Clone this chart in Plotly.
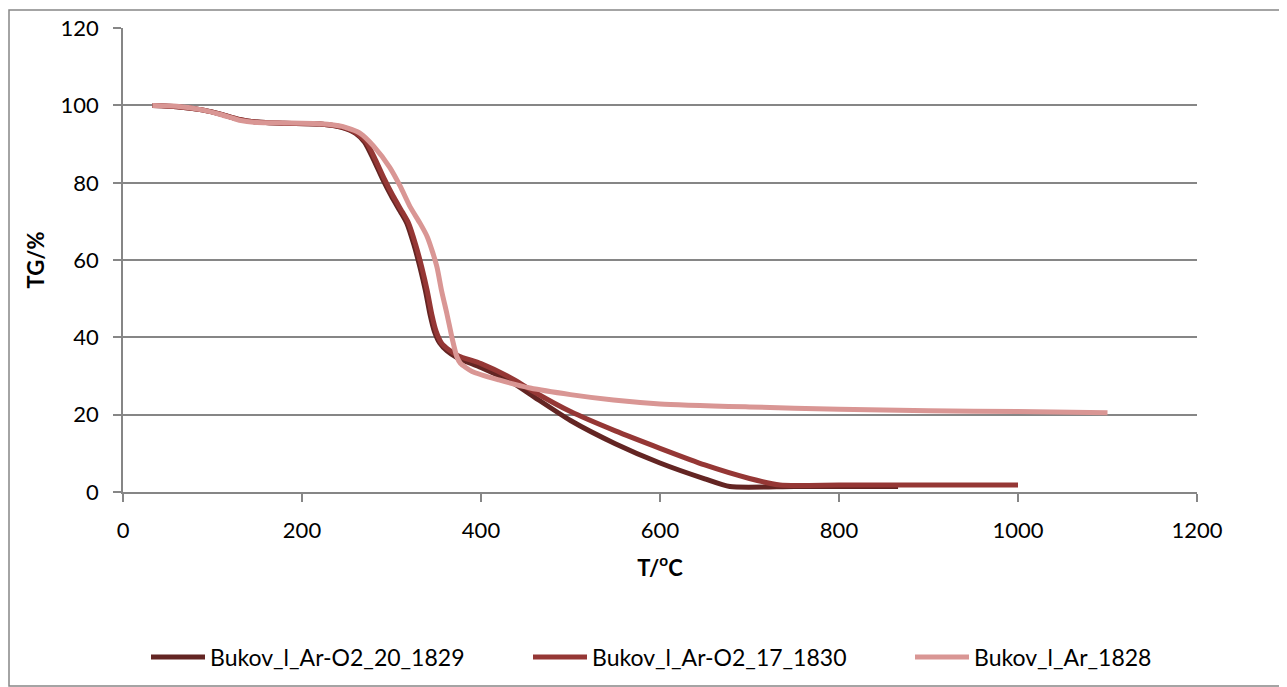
import plotly.graph_objects as go

# Series: Bukov_l_Ar-O2_20_1829 (dark)
t_1829 = [33, 60, 90, 110, 130, 150, 180, 220, 245, 260, 270, 280, 290, 300, 310, 317, 325, 332, 338, 343, 348, 354, 362, 373, 400, 436, 460, 500, 550, 600, 650, 678, 750, 866]
tg_1829 = [100, 99.7, 98.8, 97.7, 96.4, 95.7, 95.4, 95.2, 94.3, 92.8, 90.5, 86, 81, 76.5, 72.5, 69.6, 64, 58, 52, 46, 41.5, 38.5, 36.5, 34.8, 32.2, 28.2, 24.5, 18.5, 12.5, 7.5, 3.4, 1.4, 1.4, 1.4]

# Series: Bukov_l_Ar-O2_17_1830 (mid)
t_1830 = [33, 60, 90, 110, 130, 150, 180, 220, 245, 260, 272, 282, 292, 302, 312, 319, 327, 334, 340, 345, 350, 356, 364, 375, 400, 436, 460, 500, 550, 600, 650, 700, 734, 800, 900, 1000]
tg_1830 = [100, 99.7, 98.8, 97.7, 96.4, 95.7, 95.4, 95.2, 94.4, 93, 90.5, 86, 81, 76.5, 72.5, 69.6, 64, 58, 52, 46, 41.5, 38.5, 36.8, 35.2, 33.2, 29.2, 25.8, 20.8, 15.8, 11.3, 7.0, 3.5, 1.8, 1.8, 1.8, 1.8]

# Series: Bukov_l_Ar_1828 (light)
t_1828 = [33, 60, 90, 110, 130, 150, 180, 220, 245, 265, 280, 298, 310, 321, 332, 340, 346, 351, 356, 362, 368, 373, 377, 390, 420, 455, 500, 548, 600, 700, 800, 900, 1000, 1100]
tg_1828 = [100, 99.8, 98.8, 97.6, 96.2, 95.6, 95.5, 95.3, 94.6, 92.8, 89.5, 84, 79, 73.7, 69.5, 66, 62, 58, 52, 46, 39.5, 35, 33.3, 31.2, 29, 26.9, 25.2, 23.8, 22.8, 22.0, 21.4, 21.0, 20.8, 20.5]

series_names = ["Bukov_l_Ar-O2_20_1829", "Bukov_l_Ar-O2_17_1830", "Bukov_l_Ar_1828"]
series_colors = ["#632523", "#953735", "#D99694"]

x_ticks = [0, 200, 400, 600, 800, 1000, 1200]
y_ticks = [0, 20, 40, 60, 80, 100, 120]

W, H = 1279, 679
L, T, PW, PH = 115, 20, 1074, 464
legend_ids = ["legend", "legend2", "legend3"]
legend_line_start = [143, 525, 907]  # figure px where each legend sample line begins

fig = go.Figure()
for name, xs, ys, col, lid in zip(series_names, [t_1829, t_1830, t_1828], [tg_1829, tg_1830, tg_1828],
                                  series_colors, legend_ids):
    fig.add_trace(go.Scatter(x=xs, y=ys, mode="lines", name=name, legend=lid,
                             line=dict(color=col, width=5, shape="spline", smoothing=0.6)))

font_family = "Lato, 'Open Sans', sans-serif"
legend_common = dict(orientation="h", xanchor="left", y=(T + PH - 649) / PH, yanchor="middle",
                     font=dict(size=23), itemwidth=54, bgcolor="rgba(0,0,0,0)", borderwidth=0)
layout_legends = {}
for lid, x0 in zip(legend_ids, legend_line_start):
    layout_legends[lid] = dict(legend_common, x=(x0 - 5 - L) / PW)

fig.update_layout(
    width=W, height=H,
    paper_bgcolor="white", plot_bgcolor="white",
    margin=dict(l=L, r=W - L - PW, t=T, b=H - T - PH, autoexpand=False),
    font=dict(family=font_family, size=22, color="black"),
    showlegend=True,
    xaxis=dict(range=[0, 1200], tickvals=x_ticks, showgrid=False, showline=True,
               linecolor="#868686", linewidth=1.5, ticks="outside", ticklen=8, tickcolor="#868686",
               tickwidth=1.5, zeroline=False, ticklabelstandoff=10,
               title=dict(text="<b>T/<sup>o</sup>C</b>", font=dict(size=22), standoff=18)),
    yaxis=dict(range=[0, 120.05], tickvals=y_ticks, showgrid=True, gridcolor="#868686", gridwidth=1.5,
               showline=True, linecolor="#868686", linewidth=1.5, ticks="outside", ticklen=8,
               tickcolor="#868686", tickwidth=1.5, zeroline=False, ticklabelstandoff=10,
               title=dict(text="<b>TG/%</b>", font=dict(size=22), standoff=10)),
    shapes=[dict(type="rect", xref="paper", yref="paper",
                 x0=(1 - L) / PW, x1=(W - 1 - L) / PW, y0=(T + PH - (H - 1)) / PH, y1=(T + PH - 2) / PH,
                 line=dict(color="#868686", width=1.5), fillcolor="rgba(0,0,0,0)", layer="below")],
    **layout_legends,
)

fig.write_html("out.html")
